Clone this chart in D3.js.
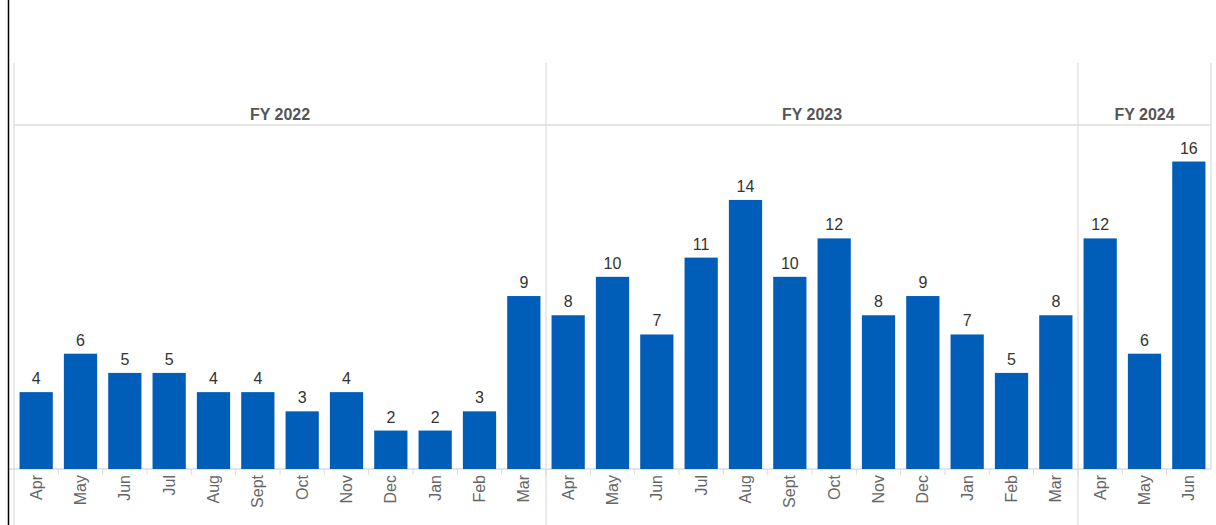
<!DOCTYPE html>
<html>
<head>
<meta charset="utf-8">
<script src="https://cdn.jsdelivr.net/npm/d3@7"></script>
<style>
  body { margin: 0; background: #fff; }
  svg { display: block; font-family: "Liberation Sans", Arial, sans-serif; }
</style>
</head>
<body>
<script>
// data
const fiscalYears = ["FY 2022", "FY 2023", "FY 2024"];
const monthsFull = ["Apr", "May", "Jun", "Jul", "Aug", "Sept", "Oct", "Nov", "Dec", "Jan", "Feb", "Mar"];
const fy2022 = [4, 6, 5, 5, 4, 4, 3, 4, 2, 2, 3, 9];
const fy2023 = [8, 10, 7, 11, 14, 10, 12, 8, 9, 7, 5, 8];
const fy2024 = [12, 6, 16];

const series = [fy2022, fy2023, fy2024];

const rows = [];
series.forEach((vals, i) => {
  vals.forEach((v, j) => {
    rows.push({fy: fiscalYears[i], month: monthsFull[j], value: v, key: fiscalYears[i] + "-" + monthsFull[j]});
  });
});

const width = 1216, height = 525;
const plot = {left: 14, right: 1211, top: 125, bottom: 469, header: 63};

const svg = d3.select("body").append("svg")
  .attr("width", width)
  .attr("height", height);

const x = d3.scaleBand()
  .domain(rows.map(d => d.key))
  .range([plot.left, plot.right])
  .paddingInner(0.25)
  .paddingOuter(0.125);

const y = d3.scaleLinear()
  .domain([0, 17.9])
  .range([plot.bottom, plot.top]);

const grid = "#dcdcdc";
const gap = (x.step() - x.bandwidth()) / 2;

// panel extents
const panels = fiscalYears.map((fy) => {
  const keys = rows.filter(d => d.fy == fy).map(d => d.key);
  return {fy: fy, x0: x(keys[0]) - gap, x1: x(keys[keys.length - 1]) + x.bandwidth() + gap};
});

// header separator
svg.append("line")
  .attr("x1", plot.left).attr("x2", plot.right)
  .attr("y1", plot.top).attr("y2", plot.top)
  .attr("stroke", grid).attr("stroke-width", 1.5);

// vertical panel dividers
panels.forEach((p) => {
  svg.append("line")
    .attr("x1", p.x0).attr("x2", p.x0)
    .attr("y1", plot.header).attr("y2", height)
    .attr("stroke", grid).attr("stroke-width", 1.2);
});
svg.append("line")
  .attr("x1", plot.right).attr("x2", plot.right)
  .attr("y1", plot.header).attr("y2", plot.bottom)
  .attr("stroke", grid).attr("stroke-width", 1.2);

// header labels
svg.selectAll("text.fy")
  .data(panels)
  .enter()
  .append("text")
  .attr("class", "fy")
  .attr("x", d => (d.x0 + d.x1) / 2)
  .attr("y", 120)
  .attr("text-anchor", "middle")
  .attr("font-size", 16)
  .attr("font-weight", "bold")
  .attr("fill", "#555")
  .text(d => d.fy);

// baseline
svg.append("line")
  .attr("x1", 8).attr("x2", plot.right)
  .attr("y1", plot.bottom).attr("y2", plot.bottom)
  .attr("stroke", grid).attr("stroke-width", 1.5);

// ticks between months
svg.selectAll("line.tick")
  .data(rows.slice(1))
  .enter()
  .append("line")
  .attr("class", "tick")
  .attr("x1", d => x(d.key) - gap)
  .attr("x2", d => x(d.key) - gap)
  .attr("y1", plot.bottom)
  .attr("y2", plot.bottom + 6)
  .attr("stroke", grid);

// bars
svg.selectAll("rect.bar")
  .data(rows)
  .enter()
  .append("rect")
  .attr("class", "bar")
  .attr("x", d => x(d.key))
  .attr("y", d => y(d.value))
  .attr("width", x.bandwidth())
  .attr("height", d => y(0) - y(d.value))
  .attr("fill", "#005eb8");

// value labels
svg.selectAll("text.val")
  .data(rows)
  .enter()
  .append("text")
  .attr("class", "val")
  .attr("x", d => x(d.key) + x.bandwidth() / 2)
  .attr("y", d => y(d.value) - 8)
  .attr("text-anchor", "middle")
  .attr("font-size", 16)
  .attr("fill", "#333")
  .text(d => d.value);

// month labels
svg.selectAll("text.month")
  .data(rows)
  .enter()
  .append("text")
  .attr("class", "month")
  .attr("transform", d => "translate(" + (x(d.key) + x.bandwidth() / 2) + "," + (plot.bottom + 6) + ") rotate(-90)")
  .attr("dy", "0.35em")
  .attr("text-anchor", "end")
  .attr("font-size", 16)
  .attr("fill", "#666")
  .text(d => d.month);

// left black border
svg.append("line")
  .attr("x1", 8.5).attr("x2", 8.5)
  .attr("y1", 0).attr("y2", height)
  .attr("stroke", "#000").attr("stroke-width", 1.5);
</script>
</body>
</html>
